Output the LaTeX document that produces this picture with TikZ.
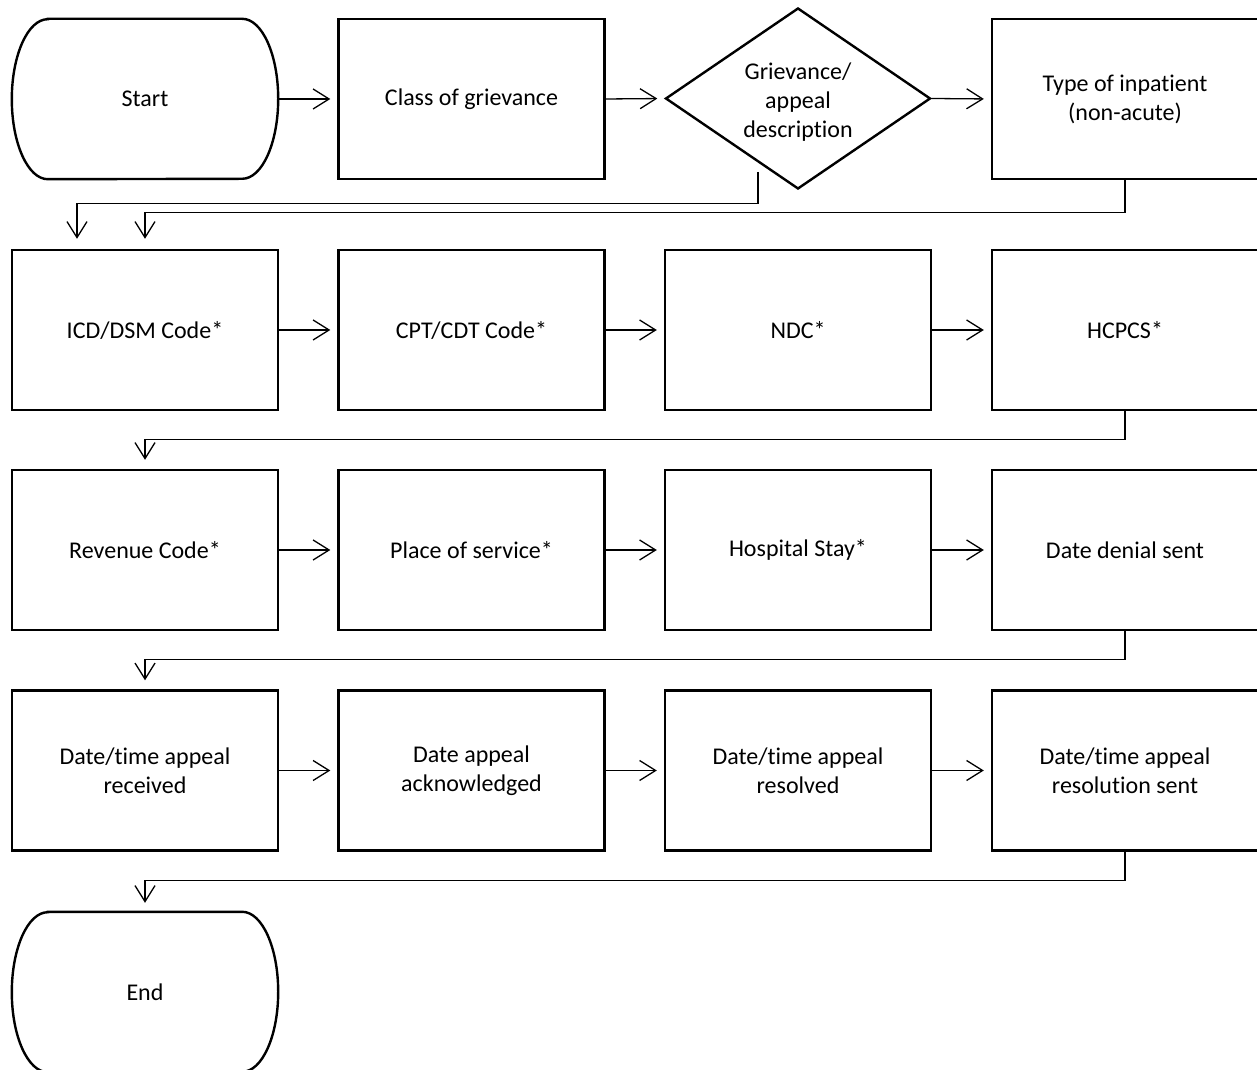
\documentclass[tikz,border=0pt]{standalone}
\usepackage{fontspec}
\setmainfont{Carlito}[Ligatures=NoCommon]
\usetikzlibrary{arrows.meta,shapes.geometric}
\begin{document}
\begin{tikzpicture}[x=1pt,y=1pt,
  every node/.style={font=\fontsize{24}{29}\selectfont, align=center},
  procbox/.style={draw, line width=2.4pt, rectangle, minimum width=266pt, minimum height=160pt, inner sep=0pt},
  termbox/.style={rectangle, minimum width=266pt, minimum height=160pt, inner sep=0pt},
  termline/.style={draw, line width=2.4pt},
  decbox/.style={draw, line width=2.4pt, diamond, aspect=1.464, minimum width=265pt, minimum height=181pt, inner sep=0pt},
  arr/.style={line width=1.3pt, -{Straight Barb[length=16pt,width=20pt,line width=1.3pt]}},
  harr/.style={arr, shorten >=7pt},
  varr/.style={arr, shorten >=9pt}
]
\useasboundingbox (0,0) rectangle (1257,1069);

% row 1
\node[termbox] (start) at (145,970) {Start};
\draw[termline] ([xshift=36pt]start.north west) -- ([xshift=-36pt]start.north east)
  arc[start angle=90,end angle=-90,x radius=36pt,y radius=80pt]
  -- ([xshift=36pt]start.south west)
  arc[start angle=270,end angle=90,x radius=36pt,y radius=80pt] -- cycle;
\node[procbox] (class) at (471.5,970) {Class of grievance};
\node[decbox] (desc) at (798,970.5) {};
\node at (798,967) {Grievance/\\appeal\\description};
\node[procbox] (type) at (1125,970) {Type of inpatient\\(non-acute)};

% row 2
\node[procbox] (icd) at (145,739) {ICD/DSM Code*};
\node[procbox] (cpt) at (471.5,739) {CPT/CDT Code*};
\node[procbox] (ndc) at (798,739) {NDC*};
\node[procbox] (hcpcs) at (1125,739) {HCPCS*};

% row 3
\node[procbox] (rev) at (145,519) {Revenue Code*};
\node[procbox] (pos) at (471.5,519) {Place of service*};
\node[procbox] (stay) at (798,519) {Hospital Stay*};
\node[procbox] (denial) at (1125,519) {Date denial sent};

% row 4
\node[procbox] (recv) at (145,298.5) {Date/time appeal\\received};
\node[procbox] (ack) at (471.5,298.5) {Date appeal\\acknowledged};
\node[procbox] (resolved) at (798,298.5) {Date/time appeal\\resolved};
\node[procbox] (sent) at (1125,298.5) {Date/time appeal\\resolution sent};

% end
\node[termbox] (end) at (145,77) {End};
\draw[termline] ([xshift=36pt]end.north west) -- ([xshift=-36pt]end.north east)
  arc[start angle=90,end angle=-90,x radius=36pt,y radius=80pt]
  -- ([xshift=36pt]end.south west)
  arc[start angle=270,end angle=90,x radius=36pt,y radius=80pt] -- cycle;

% horizontal connectors
\draw[harr] (start.east) -- (class.west);
\draw[harr] (class.east) -- (desc.west);
\draw[harr] (desc.east) -- (type.west);
\draw[harr] (icd.east) -- (cpt.west);
\draw[harr] (cpt.east) -- (ndc.west);
\draw[harr] (ndc.east) -- (hcpcs.west);
\draw[harr] (rev.east) -- (pos.west);
\draw[harr] (pos.east) -- (stay.west);
\draw[harr] (stay.east) -- (denial.west);
\draw[harr] (recv.east) -- (ack.west);
\draw[harr] (ack.east) -- (resolved.west);
\draw[harr] (resolved.east) -- (sent.west);

% row-change connectors
\coordinate (dout) at (758,897);
\draw[arr, shorten >=10pt] (dout) |- ([xshift=-68pt,yshift=45pt]icd.north) -- ([xshift=-68pt]icd.north);
\draw[arr, shorten >=10pt] (type.south) |- ([yshift=36pt]icd.north) -- (icd.north);
\draw[varr] (hcpcs.south) |- ([yshift=29pt]rev.north) -- (rev.north);
\draw[varr] (denial.south) |- ([yshift=30pt]recv.north) -- (recv.north);
\draw[varr] (sent.south) |- ([yshift=31pt]end.north) -- (end.north);
\end{tikzpicture}
\end{document}
